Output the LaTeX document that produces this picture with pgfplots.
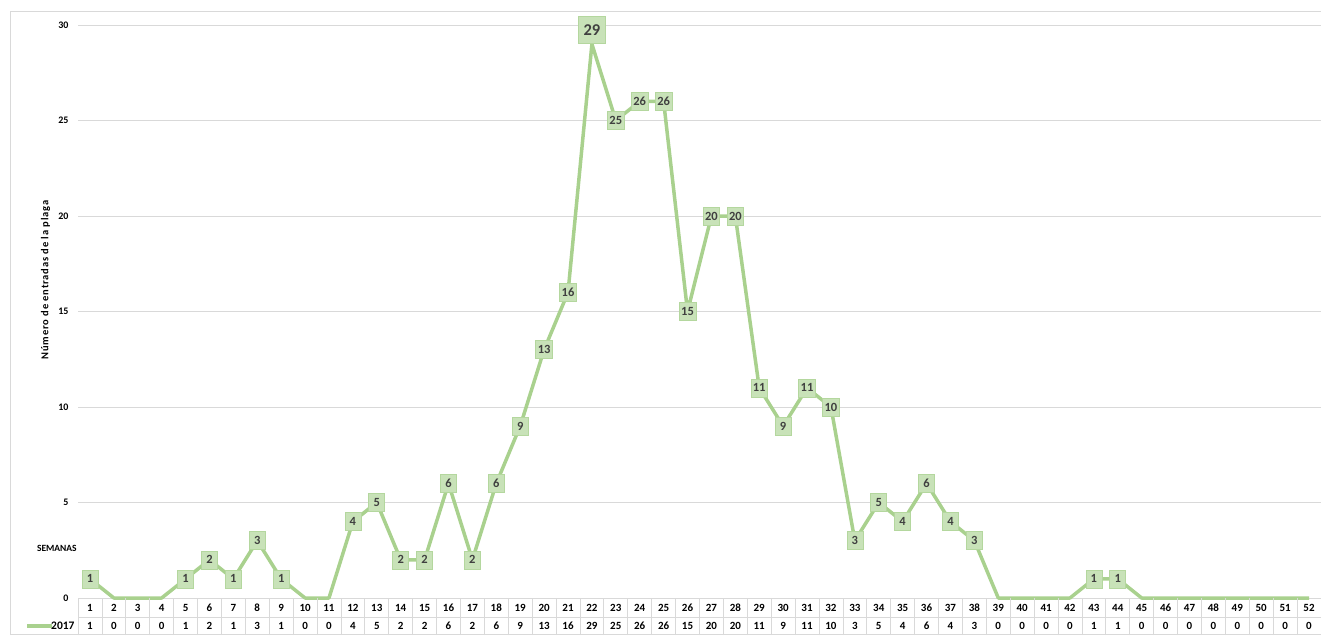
\documentclass[border=0pt]{standalone}
\usepackage{pgfplots}
\pgfplotsset{compat=1.18}
\usepackage{pgfplotstable}
\usepackage{fontspec}
\setmainfont{Carlito}
\newfontfamily\spaced[LetterSpace=8]{Carlito}
\definecolor{linegreen}{RGB}{169,209,142}
\definecolor{boxgreen}{RGB}{200,226,184}
\definecolor{boxedge}{RGB}{180,215,158}
\definecolor{gridgrey}{RGB}{217,217,217}
\definecolor{txt}{RGB}{64,64,64}

\pgfplotstableread{
w v
1 1
2 0
3 0
4 0
5 1
6 2
7 1
8 3
9 1
10 0
11 0
12 4
13 5
14 2
15 2
16 6
17 2
18 6
19 9
20 13
21 16
22 29
23 25
24 26
25 26
26 15
27 20
28 20
29 11
30 9
31 11
32 10
33 3
34 5
35 4
36 6
37 4
38 3
39 0
40 0
41 0
42 0
43 1
44 1
45 0
46 0
47 0
48 0
49 0
50 0
51 0
52 0
}\data

\begin{document}
\begin{tikzpicture}[x=1pt,y=1pt]
\useasboundingbox (0,0) rectangle (1321,635);
\draw[gridgrey, line width=0.8pt] (10,0) -- (10,624) -- (1321,624);
\begin{axis}[
  at={(78pt,37pt)}, anchor=south west,
  scale only axis, width=1243pt, height=573pt,
  xmin=0.5, xmax=52.5, ymin=0, ymax=30,
  axis line style={draw=none},
  ymajorgrids, grid style={gridgrey, line width=0.8pt},
  ytick={0,5,...,30}, xtick={1,...,52},
  major tick length=0pt,
  /pgf/number format/assume math mode=true,
  tick label style={text=black},
  yticklabel style={xshift=-6pt, font=\bfseries\fontsize{10}{11}\selectfont},
  xticklabel style={anchor=center, yshift=-9.5pt, font=\bfseries\fontsize{11}{12}\selectfont},
  ylabel={\spaced Número de entradas de la plaga},
  ylabel style={at={(axis description cs:-0.026,0.555)}, anchor=center, rotate=0, font=\bfseries\fontsize{10.5}{12}\selectfont},
  xlabel={SEMANAS},
  xlabel style={at={(axis description cs:-0.017,0.087)}, anchor=center, font=\bfseries\fontsize{9.5}{10}\selectfont},
  clip=false,
]
% table row of values
\addplot[draw=none, mark=none, nodes near coords, point meta=explicit symbolic,
  nodes near coords style={anchor=center, yshift=-28pt, text=black, font=\bfseries\fontsize{11}{12}\selectfont}]
  table[x=w, y expr=0, meta=v] {\data};
% main line
\addplot[linegreen, line width=3.5pt, line join=round, mark=none] table[x=w, y=v] {\data};
% data labels
\addplot[draw=none, mark=none, y filter/.expression={y==0 ? nan : y},
  nodes near coords, point meta=explicit symbolic,
  nodes near coords style={anchor=center, fill=boxgreen, draw=boxedge, line width=0.6pt, text=txt, inner sep=2pt},
  coordinate style/.condition={y!=29}{font=\bfseries\fontsize{12.5}{14}\selectfont, minimum height=18pt, minimum width=16pt},
  coordinate style/.condition={y==29}{font=\bfseries\fontsize{16.5}{18}\selectfont, yshift=14pt, minimum height=27pt, minimum width=27pt}]
  table[x=w, y=v, meta=v] {\data};
\end{axis}
% table grid
\foreach \k in {0,...,52} {
  \draw[gridgrey, line width=0.8pt] ({78+1243/52*\k},0) -- ({78+1243/52*\k},37);
}
\draw[gridgrey, line width=0.8pt] (78,18) -- (1321,18);
\draw[gridgrey, line width=0.8pt] (10,0.4) -- (1321,0.4);
% legend key
\draw[linegreen, line width=3.5pt] (27,9) -- (52,9);
\node[anchor=west, inner sep=0pt, font=\bfseries\fontsize{11.5}{12}\selectfont] at (51,9) {2017};
\end{tikzpicture}
\end{document}
